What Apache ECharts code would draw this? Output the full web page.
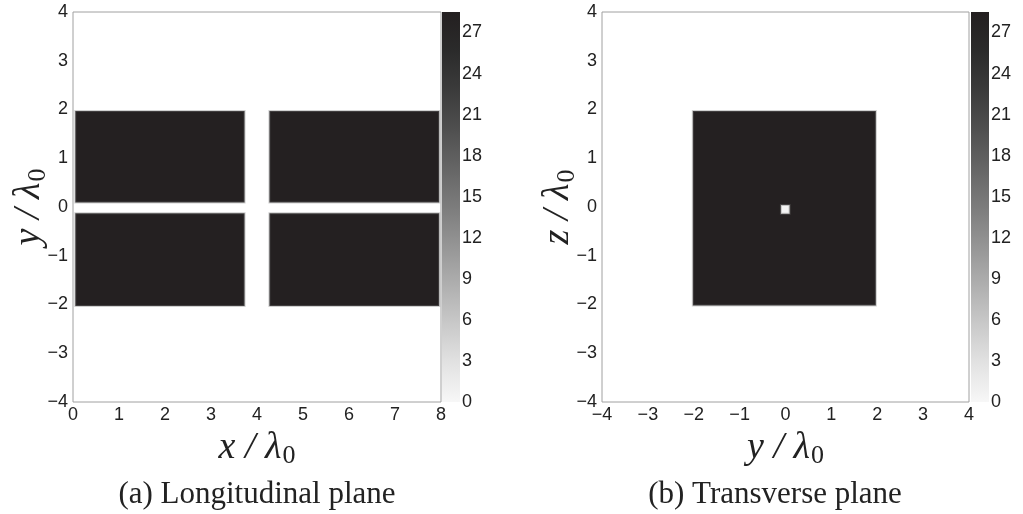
<!DOCTYPE html>
<html>
<head>
<meta charset="utf-8">
<script src="https://cdn.jsdelivr.net/npm/echarts@6/dist/echarts.min.js"></script>
<style>
  html, body { margin: 0; padding: 0; background: #fff; }
  #main { width: 1023px; height: 514px; }
</style>
</head>
<body>
<div id="main"></div>
<script>
// field magnitude blocks: [x0, x1, y0, y1, value]
var longBlocks = [
  [0.05, 3.73, 0.09, 1.97, 28.2],
  [4.27, 7.96, 0.09, 1.97, 28.2],
  [0.05, 3.73, -2.03, -0.13, 28.2],
  [4.27, 7.96, -2.03, -0.13, 28.2]
];
var transBlocks = [
  [-2.02, 1.97, -2.02, 1.97, 28.2],
  [-0.10, 0.09, -0.14, 0.04, 0.4]
];
var longXTicks = [0, 8];
var transXTicks = [-4, 4];
var yRange = [-4, 4];
var cbMax = 28.5;
// grey colormap, from 0 up to cbMax
var greys = ['#f7f7f7', '#e2e2e2', '#c9c9c9', '#afafaf', '#959595', '#7c7c7c',
             '#656565', '#4f4f4f', '#3b3b3b', '#2b2b2b', '#231f20'];

var dom = document.getElementById('main');
var myChart = echarts.init(dom);

var tickFont = { fontFamily: 'Liberation Sans', fontSize: 18, color: '#222' };
function minusFmt(v) { return String(v).replace('-', '\u2212'); }

function renderBlock(params, api) {
  var p0 = api.coord([api.value(0), api.value(3)]);
  var p1 = api.coord([api.value(1), api.value(2)]);
  return {
    type: 'rect',
    shape: { x: p0[0], y: p0[1], width: p1[0] - p0[0], height: p1[1] - p0[1] },
    style: { fill: api.visual('color'), stroke: 'rgba(120,120,120,0.35)', lineWidth: 2 }
  };
}

function renderBar(params, api) {
  var p0 = api.coord([0, cbMax]);
  var p1 = api.coord([1, 0]);
  var stops = greys.map(function (c, i) { return { offset: i / (greys.length - 1), color: c }; });
  return {
    type: 'rect',
    shape: { x: p0[0], y: p0[1], width: p1[0] - p0[0], height: p1[1] - p0[1] },
    style: { fill: { type: 'linear', x: 0, y: 1, x2: 0, y2: 0, colorStops: stops } }
  };
}

function nameRich() {
  return {
    fontFamily: 'Liberation Serif',
    color: '#222',
    rich: {
      m: { fontFamily: 'Liberation Serif', fontStyle: 'italic', fontSize: 38, color: '#222' },
      s: { fontFamily: 'Liberation Serif', fontSize: 26, color: '#222', padding: [17, 0, 0, 1] }
    }
  };
}

function mainXAxis(idx, range, name) {
  return {
    gridIndex: idx, type: 'value', min: range[0], max: range[1], interval: 1,
    axisLine: { show: false }, axisTick: { show: false }, splitLine: { show: false },
    axisLabel: Object.assign({ margin: 4, formatter: minusFmt }, tickFont),
    name: '{m|' + name + ' / \u03bb}{s|0}', nameLocation: 'middle', nameGap: 18,
    nameTextStyle: nameRich()
  };
}
function mainYAxis(idx, name) {
  return {
    gridIndex: idx, type: 'value', min: yRange[0], max: yRange[1], interval: 1,
    axisLine: { show: false }, axisTick: { show: false }, splitLine: { show: false },
    axisLabel: Object.assign({ margin: 5, formatter: minusFmt }, tickFont),
    name: '{m|' + name + ' / \u03bb}{s|0}', nameLocation: 'middle', nameGap: 22,
    nameMoveOverlap: false,
    nameTextStyle: nameRich()
  };
}
function cbXAxis(idx) {
  return { gridIndex: idx, type: 'value', min: 0, max: 1, show: false };
}
function cbYAxis(idx) {
  return {
    gridIndex: idx, type: 'value', min: 0, max: cbMax, interval: 3, position: 'right',
    axisLine: { show: false }, axisTick: { show: false }, splitLine: { show: false },
    axisLabel: Object.assign({ margin: 2, showMaxLabel: false }, tickFont)
  };
}

var captionFont = { fontFamily: 'Liberation Serif', fontSize: 31, fill: '#222', textAlign: 'center' };

var option = {
  animation: false,
  backgroundColor: '#fff',
  grid: [
    { left: 73, top: 12, width: 368, height: 390, show: true, borderColor: '#a0a0a0', borderWidth: 1 },
    { left: 442, top: 12, width: 18, height: 390 },
    { left: 602, top: 12, width: 367, height: 390, show: true, borderColor: '#a0a0a0', borderWidth: 1 },
    { left: 971, top: 12, width: 18, height: 390 }
  ],
  xAxis: [
    mainXAxis(0, longXTicks, 'x'),
    cbXAxis(1),
    mainXAxis(2, transXTicks, 'y'),
    cbXAxis(3)
  ],
  yAxis: [
    mainYAxis(0, 'y'),
    cbYAxis(1),
    mainYAxis(2, 'z'),
    cbYAxis(3)
  ],
  visualMap: {
    type: 'continuous', show: false, min: 0, max: cbMax, dimension: 4,
    seriesIndex: [0, 2], inRange: { color: greys }
  },
  series: [
    { type: 'custom', xAxisIndex: 0, yAxisIndex: 0, renderItem: renderBlock,
      encode: { x: [0, 1], y: [2, 3] }, data: longBlocks },
    { type: 'custom', xAxisIndex: 1, yAxisIndex: 1, renderItem: renderBar,
      encode: { x: 0, y: 1 }, data: [[0, cbMax]], silent: true },
    { type: 'custom', xAxisIndex: 2, yAxisIndex: 2, renderItem: renderBlock,
      encode: { x: [0, 1], y: [2, 3] }, data: transBlocks },
    { type: 'custom', xAxisIndex: 3, yAxisIndex: 3, renderItem: renderBar,
      encode: { x: 0, y: 1 }, data: [[0, cbMax]], silent: true }
  ],
  graphic: [
    { type: 'text', x: 257, y: 479,
      style: Object.assign({ text: '(a) Longitudinal plane' }, captionFont) },
    { type: 'text', x: 775, y: 479,
      style: Object.assign({ text: '(b) Transverse plane' }, captionFont) }
  ]
};

myChart.setOption(option);
</script>
</body>
</html>
